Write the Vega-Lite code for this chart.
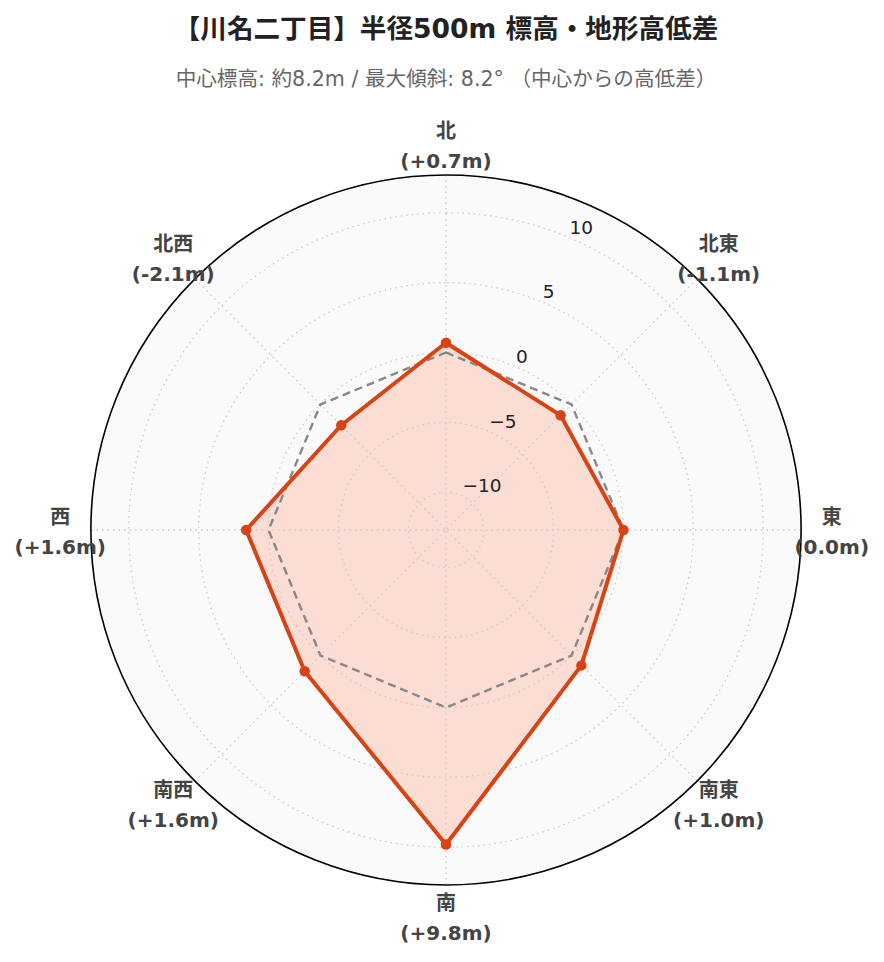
{
  "$schema": "https://vega.github.io/schema/vega-lite/v6.json",
  "width": 710,
  "height": 710,
  "autosize": {"type": "none"},
  "padding": {"left": 91, "top": 175, "right": 83, "bottom": 77},
  "background": "white",
  "view": {"stroke": null},
  "config": {"font": "DejaVu Sans, Noto Sans CJK JP, sans-serif"},
  "title": {
    "text": "【川名二丁目】半径500m 標高・地形高低差",
    "subtitle": "中心標高: 約8.2m / 最大傾斜: 8.2° （中心からの高低差）",
    "anchor": "middle",
    "font": "DejaVu Sans, Noto Sans CJK JP, sans-serif",
    "fontSize": 26.6,
    "fontWeight": "bold",
    "color": "#222222",
    "subtitleFont": "DejaVu Sans, Noto Sans CJK JP, sans-serif",
    "subtitleFontSize": 20.6,
    "subtitleColor": "#666666",
    "subtitlePadding": 26,
    "offset": 45,
    "dy": 13
  },
  "datasets": {
    "dirs": [
      {"dir": "北", "az": 0, "diff": 0.7, "base": 0, "label": "北\n(+0.7m)"},
      {"dir": "北東", "az": 45, "diff": -1.1, "base": 0, "label": "北東\n(-1.1m)"},
      {"dir": "東", "az": 90, "diff": 0.0, "base": 0, "label": "東\n(0.0m)"},
      {"dir": "南東", "az": 135, "diff": 1.0, "base": 0, "label": "南東\n(+1.0m)"},
      {"dir": "南", "az": 180, "diff": 9.8, "base": 0, "label": "南\n(+9.8m)"},
      {"dir": "南西", "az": 225, "diff": 1.6, "base": 0, "label": "南西\n(+1.6m)"},
      {"dir": "西", "az": 270, "diff": 1.6, "base": 0, "label": "西\n(+1.6m)"},
      {"dir": "北西", "az": 315, "diff": -2.1, "base": 0, "label": "北西\n(-2.1m)"}
    ],
    "ticks": [
      {"t": -10, "txt": "−10"},
      {"t": -5, "txt": "−5"},
      {"t": 0, "txt": "0"},
      {"t": 5, "txt": "5"},
      {"t": 10, "txt": "10"}
    ]
  },
  "data": {"name": "dirs"},
  "transform": [
    {"calculate": "datum.az * PI / 180", "as": "rad"},
    {"calculate": "(datum.diff + 12.7) * sin(datum.rad)", "as": "px"},
    {"calculate": "(datum.diff + 12.7) * cos(datum.rad)", "as": "py"},
    {"calculate": "(datum.base + 12.7) * sin(datum.rad)", "as": "bx"},
    {"calculate": "(datum.base + 12.7) * cos(datum.rad)", "as": "by"},
    {"calculate": "25.4 * sin(datum.rad)", "as": "sx"},
    {"calculate": "25.4 * cos(datum.rad)", "as": "sy"},
    {"calculate": "27.6 * sin(datum.rad)", "as": "lx"},
    {"calculate": "27.6 * cos(datum.rad)", "as": "ly"}
  ],
  "layer": [
    {
      "transform": [{"filter": "datum.az == 0"}],
      "mark": {"type": "arc", "fill": "#fafafa", "strokeWidth": 0},
      "encoding": {
        "radius": {"datum": 12.7, "type": "quantitative", "scale": {"type": "linear", "domain": [-12.7, 12.7], "range": [0, 355], "zero": false}},
        "radius2": {"datum": -12.7}
      }
    },
    {
      "mark": {"type": "line", "interpolate": "linear-closed", "fill": "#ff5722", "fillOpacity": 0.18, "strokeWidth": 0},
      "encoding": {
        "x": {"field": "px", "type": "quantitative", "scale": {"domain": [-25.4, 25.4], "nice": false}, "axis": null},
        "y": {"field": "py", "type": "quantitative", "scale": {"domain": [-25.4, 25.4], "nice": false}, "axis": null},
        "order": {"field": "az", "type": "quantitative"}
      }
    },
    {
      "data": {"name": "ticks"},
      "mark": {"type": "arc", "filled": false, "stroke": "#cccccc", "strokeWidth": 1.3, "strokeDash": [1.5, 4]},
      "encoding": {
        "radius": {"field": "t", "type": "quantitative", "scale": {"type": "linear", "domain": [-12.7, 12.7], "range": [0, 355], "zero": false}},
        "radius2": {"datum": -12.7}
      }
    },
    {
      "mark": {"type": "rule", "stroke": "#cccccc", "strokeWidth": 1.3, "strokeDash": [1.5, 4]},
      "encoding": {
        "x": {"field": "sx", "type": "quantitative", "scale": {"domain": [-25.4, 25.4], "nice": false}, "axis": null},
        "y": {"field": "sy", "type": "quantitative", "scale": {"domain": [-25.4, 25.4], "nice": false}, "axis": null},
        "x2": {"datum": 0},
        "y2": {"datum": 0}
      }
    },
    {
      "mark": {"type": "line", "interpolate": "linear-closed", "stroke": "#888888", "strokeWidth": 2.4, "strokeDash": [8, 5]},
      "encoding": {
        "x": {"field": "bx", "type": "quantitative", "scale": {"domain": [-25.4, 25.4], "nice": false}, "axis": null},
        "y": {"field": "by", "type": "quantitative", "scale": {"domain": [-25.4, 25.4], "nice": false}, "axis": null},
        "order": {"field": "az", "type": "quantitative"}
      }
    },
    {
      "mark": {"type": "line", "interpolate": "linear-closed", "stroke": "#d84315", "strokeWidth": 4, "strokeJoin": "round"},
      "encoding": {
        "x": {"field": "px", "type": "quantitative", "scale": {"domain": [-25.4, 25.4], "nice": false}, "axis": null},
        "y": {"field": "py", "type": "quantitative", "scale": {"domain": [-25.4, 25.4], "nice": false}, "axis": null},
        "order": {"field": "az", "type": "quantitative"}
      }
    },
    {
      "mark": {"type": "point", "filled": true, "shape": "circle", "color": "#d84315", "opacity": 1, "size": 110},
      "encoding": {
        "x": {"field": "px", "type": "quantitative", "scale": {"domain": [-25.4, 25.4], "nice": false}, "axis": null},
        "y": {"field": "py", "type": "quantitative", "scale": {"domain": [-25.4, 25.4], "nice": false}, "axis": null}
      }
    },
    {
      "transform": [{"filter": "datum.az == 0"}],
      "mark": {"type": "arc", "filled": false, "stroke": "#000000", "strokeWidth": 1.6},
      "encoding": {
        "radius": {"datum": 12.7, "type": "quantitative", "scale": {"type": "linear", "domain": [-12.7, 12.7], "range": [0, 355], "zero": false}},
        "radius2": {"datum": -12.7}
      }
    },
    {
      "data": {"name": "ticks"},
      "transform": [
        {"calculate": "(datum.t + 12.7) * sin(22.5 * PI / 180)", "as": "tx"},
        {"calculate": "(datum.t + 12.7) * cos(22.5 * PI / 180)", "as": "ty"}
      ],
      "mark": {"type": "text", "align": "left", "baseline": "middle", "dx": 2, "dy": -9, "fontSize": 18.5, "color": "#222222"},
      "encoding": {
        "x": {"field": "tx", "type": "quantitative", "scale": {"domain": [-25.4, 25.4], "nice": false}, "axis": null},
        "y": {"field": "ty", "type": "quantitative", "scale": {"domain": [-25.4, 25.4], "nice": false}, "axis": null},
        "text": {"field": "txt"}
      }
    },
    {
      "mark": {"type": "text", "align": "center", "baseline": "middle", "dy": -12, "lineBreak": "\n", "lineHeight": 30, "fontSize": 20, "fontWeight": "bold", "color": "#444444"},
      "encoding": {
        "x": {"field": "lx", "type": "quantitative", "scale": {"domain": [-25.4, 25.4], "nice": false}, "axis": null},
        "y": {"field": "ly", "type": "quantitative", "scale": {"domain": [-25.4, 25.4], "nice": false}, "axis": null},
        "text": {"field": "label"}
      }
    }
  ]
}
